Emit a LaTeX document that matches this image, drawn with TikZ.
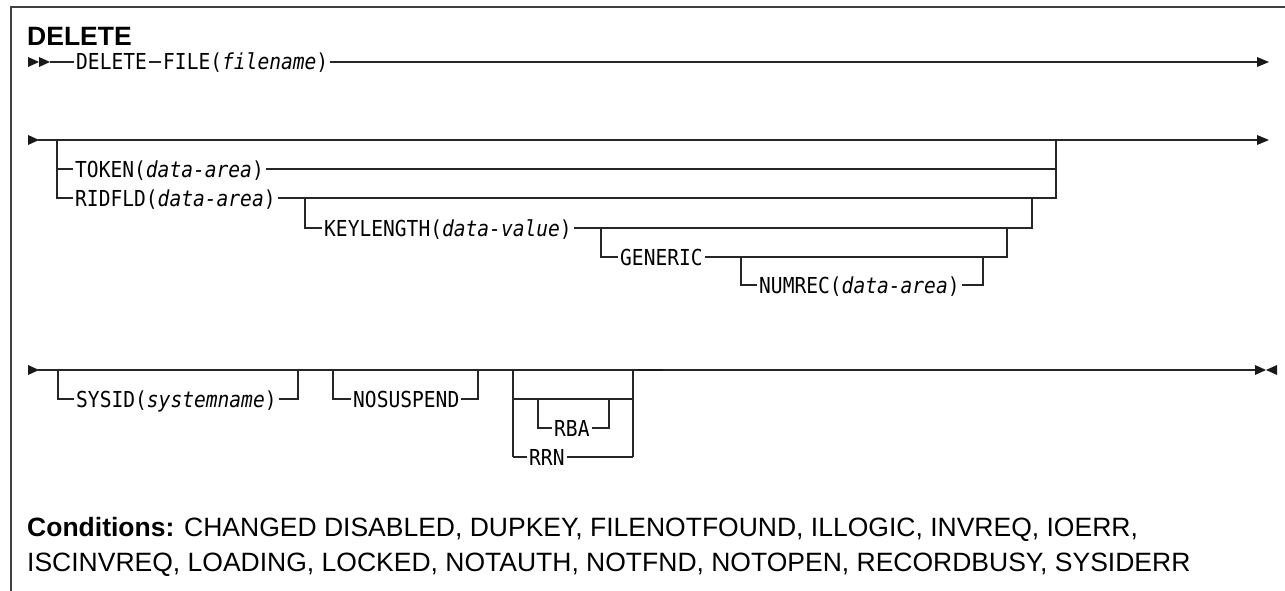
\documentclass[tikz,border=0pt]{standalone}
\usepackage{fontspec}
\setmainfont{Liberation Sans}
\newfontfamily\monof[FakeStretch=0.89]{DejaVu Sans Mono}
\tikzset{
  rr/.style={line width=1.2pt, draw=black!85},
  kw/.style={anchor=west, inner xsep=2pt, inner ysep=0pt, text height=22pt, text depth=6pt,
             font=\monof\fontsize{22}{26}\selectfont},
  tip/.style={fill=black!90},
  cond/.style={anchor=base west, inner sep=0, font=\fontsize{26.5}{30}\selectfont},
}
\begin{document}
\begin{tikzpicture}[x=1pt,y=-1pt]
\useasboundingbox (0,0) rectangle (1285,591);
% frame
\draw[line width=1.4pt, black!75] (11,591) -- (11,7) -- (1285,7);
% title
\node[anchor=base west, inner sep=0, font=\fontsize{26.5}{30}\selectfont\bfseries] (title) at (27,46) {DELETE};

% ---------- line 1 ----------
\fill[tip] (28,57) -- (39,62) -- (28,67) -- cycle;
\fill[tip] (39,57) -- (50,62) -- (39,67) -- cycle;
\coordinate (l1s) at (50,62);
\node[kw] (del) at (74,62) {DELETE};
\node[kw] (file) at (161,62) {FILE(\textit{filename})};
\coordinate (l1e) at (1258,62);
\draw[rr] (l1s) -- (del) -- (file) -- (l1e);
\fill[tip] (1257,57) -- (1269,62) -- (1257,67) -- cycle;

% ---------- line 2 ----------
\fill[tip] (28,135) -- (39,140) -- (28,145) -- cycle;
\coordinate (l2s) at (38,140);
\coordinate (l2e) at (1258,140);
\draw[rr] (l2s) -- (l2e);
\fill[tip] (1257,135) -- (1269,140) -- (1257,145) -- cycle;
\coordinate (l2a) at (57,140);
\coordinate (l2b) at (1056,140);
\coordinate (t0) at (57,169);
\coordinate (t1) at (1056,169);
\coordinate (r0) at (57,198);
\coordinate (r1) at (1056,198);
\node[kw] (tok) at (73,169) {TOKEN(\textit{data-area})};
\node[kw] (rid) at (73,198) {RIDFLD(\textit{data-area})};
\draw[rr] (l2a) -- (r0) -- (rid) -- (r1) -- (l2b);
\draw[rr] (t0) -- (tok) -- (t1);
% keylength
\coordinate (k0) at (305,198);
\coordinate (k0b) at (305,228);
\coordinate (k1) at (1032,198);
\coordinate (k1b) at (1032,228);
\node[kw] (key) at (322,228) {KEYLENGTH(\textit{data-value})};
\draw[rr] (k0) -- (k0b) -- (key) -- (k1b) -- (k1);
% generic
\coordinate (g0) at (601,228);
\coordinate (g0b) at (601,257);
\coordinate (g1) at (1007,228);
\coordinate (g1b) at (1007,257);
\node[kw] (gen) at (618,257) {GENERIC};
\draw[rr] (g0) -- (g0b) -- (gen) -- (g1b) -- (g1);
% numrec
\coordinate (n0) at (741,257);
\coordinate (n0b) at (741,285);
\coordinate (n1) at (983,257);
\coordinate (n1b) at (983,285);
\node[kw] (num) at (757,285) {NUMREC(\textit{data-area})};
\draw[rr] (n0) -- (n0b) -- (num) -- (n1b) -- (n1);

% ---------- line 3 ----------
\fill[tip] (28,365) -- (39,370) -- (28,375) -- cycle;
\coordinate (l3s) at (38,370);
\coordinate (l3e) at (1256,370);
\draw[rr] (l3s) -- (l3e);
\fill[tip] (1255,365) -- (1266,370) -- (1255,375) -- cycle;
\fill[tip] (1277,365) -- (1266,370) -- (1277,375) -- cycle;
% sysid
\coordinate (s0) at (58,370);
\coordinate (s0b) at (58,399);
\coordinate (s1) at (298,370);
\coordinate (s1b) at (298,399);
\node[kw] (sys) at (74,399) {SYSID(\textit{systemname})};
\draw[rr] (s0) -- (s0b) -- (sys) -- (s1b) -- (s1);
% nosuspend
\coordinate (ns0) at (333,370);
\coordinate (ns0b) at (333,399);
\coordinate (ns1) at (478,370);
\coordinate (ns1b) at (478,399);
\node[kw] (nos) at (351,399) {NOSUSPEND};
\draw[rr] (ns0) -- (ns0b) -- (nos) -- (ns1b) -- (ns1);
% rba / rrn
\coordinate (b0) at (513,370);
\coordinate (b0m) at (513,399);
\coordinate (b0b) at (513,457);
\coordinate (b1) at (633,370);
\coordinate (b1m) at (633,399);
\coordinate (b1b) at (633,457);
\draw[rr] (b0) -- (b0b);
\draw[rr] (b1) -- (b1b);
\draw[rr] (b0m) -- (b1m);
\coordinate (ri0) at (538,399);
\coordinate (ri0b) at (538,428);
\coordinate (ri1) at (609,399);
\coordinate (ri1b) at (609,428);
\node[kw] (rba) at (552,428) {RBA};
\draw[rr] (ri0) -- (ri0b) -- (rba) -- (ri1b) -- (ri1);
\node[kw] (rrn) at (527,457) {RRN};
\draw[rr] (b0b) -- (rrn) -- (b1b);
\coordinate (td0) at (638,370);
\coordinate (td1) at (663,370);
\draw[line width=2.6pt, black!90] (td0) -- (td1);

% ---------- conditions ----------
\node[cond] (cond1) at (27,536.5)
  {\textbf{Conditions:} CHANGED DISABLED, DUPKEY, FILENOTFOUND, ILLOGIC, INVREQ, IOERR,};
\node[cond] (cond2) at (27,571.5)
  {ISCINVREQ, LOADING, LOCKED, NOTAUTH, NOTFND, NOTOPEN, RECORDBUSY, SYSIDERR};
\end{tikzpicture}
\end{document}
